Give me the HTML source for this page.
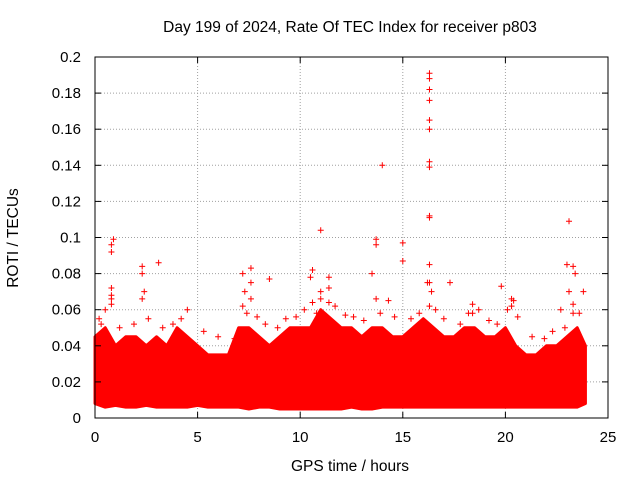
<!DOCTYPE html>
<html><head><meta charset="utf-8"><style>
body{margin:0;background:#fff;width:640px;height:480px;overflow:hidden}
text{font-family:"Liberation Sans",sans-serif;fill:#000}
</style></head><body>
<svg id="chart" width="640" height="480" viewBox="0 0 640 480">
<text x="350" y="32" font-size="15.5" text-anchor="middle">Day 199 of 2024, Rate Of TEC Index for receiver p803</text>
<text transform="translate(18,238) rotate(-90)" font-size="15.5" text-anchor="middle">ROTI / TECUs</text>
<text x="350" y="471" font-size="15.5" text-anchor="middle">GPS time / hours</text>
<g id="grid"></g><g id="marks"></g><g id="axes"></g>
</svg>
<script>
const xTicks=[0,5,10,15,20,25];
const yTicks=[0,0.02,0.04,0.06,0.08,0.1,0.12,0.14,0.16,0.18,0.2];
const yTickLabels=["0","0.02","0.04","0.06","0.08","0.1","0.12","0.14","0.16","0.18","0.2"];
const bandTimes=[0,0.5,1,1.5,2,2.5,3,3.5,4,4.5,5,5.5,6,6.5,7,7.5,8,8.5,9,9.5,10,10.5,11,11.5,12,12.5,13,13.5,14,14.5,15,15.5,16,16.5,17,17.5,18,18.5,19,19.5,20,20.5,21,21.5,22,22.5,23,23.5,23.9];
const bandUpper=[0.045,0.05,0.04,0.045,0.045,0.04,0.045,0.04,0.05,0.045,0.04,0.035,0.035,0.035,0.05,0.05,0.045,0.04,0.045,0.05,0.05,0.05,0.06,0.055,0.05,0.05,0.045,0.05,0.05,0.045,0.045,0.05,0.055,0.05,0.045,0.045,0.05,0.05,0.045,0.045,0.05,0.04,0.035,0.035,0.04,0.04,0.045,0.05,0.04];
const bandLower=[0.008,0.006,0.007,0.006,0.006,0.007,0.006,0.006,0.006,0.006,0.007,0.006,0.006,0.006,0.006,0.005,0.006,0.006,0.005,0.005,0.005,0.005,0.005,0.005,0.005,0.006,0.005,0.005,0.006,0.006,0.006,0.006,0.006,0.006,0.006,0.006,0.006,0.006,0.006,0.006,0.006,0.006,0.006,0.006,0.006,0.006,0.006,0.006,0.008];
const spikeTimes=[0.2,0.5,0.8,0.8,0.8,0.8,0.9,2.3,2.3,2.4,3.1,4.5,7.2,7.3,7.6,7.6,8.5,10.5,10.6,11.0,11.0,11.4,11.4,13.5,13.7,13.7,14.0,14.3,15.0,15.0,16.2,16.3,16.3,16.3,16.3,16.3,16.3,16.3,16.3,16.3,16.3,16.3,16.4,17.3,18.4,19.8,20.3,20.4,22.7,23.0,23.1,23.1,23.3,23.3,23.4,23.8,
 0.3,1.2,1.9,2.6,3.3,3.8,4.2,5.3,6.0,6.8,7.4,7.9,8.3,8.9,9.3,9.8,10.2,10.8,11.7,12.2,12.6,13.1,13.9,14.6,15.4,15.8,16.6,17.0,17.8,18.2,18.7,19.2,19.6,20.1,20.6,21.3,21.9,22.3,22.9,23.6,
 0.8,0.8,2.3,7.2,7.6,10.6,11.0,11.4,13.7,16.3,16.3,18.4,20.3,23.3];
const spikeValues=[0.055,0.06,0.063,0.072,0.092,0.096,0.099,0.08,0.084,0.07,0.086,0.06,0.08,0.07,0.083,0.075,0.077,0.078,0.082,0.104,0.07,0.078,0.072,0.08,0.096,0.099,0.14,0.065,0.097,0.087,0.075,0.191,0.188,0.182,0.176,0.165,0.16,0.142,0.139,0.112,0.111,0.085,0.07,0.075,0.063,0.073,0.066,0.065,0.06,0.085,0.109,0.07,0.084,0.063,0.08,0.07,
 0.052,0.05,0.052,0.055,0.05,0.052,0.055,0.048,0.045,0.044,0.058,0.056,0.052,0.05,0.055,0.056,0.06,0.058,0.062,0.057,0.056,0.054,0.058,0.056,0.055,0.058,0.06,0.055,0.052,0.058,0.06,0.054,0.052,0.06,0.056,0.045,0.044,0.048,0.05,0.058,
 0.066,0.068,0.066,0.062,0.066,0.064,0.066,0.064,0.066,0.062,0.075,0.058,0.062,0.058];
const X0=95,X1=608,Y0=418,Y1=57;
const xs=v=>X0+(v-0)/(25-0)*(X1-X0);
const ys=v=>Y0-(v-0)/(0.2-0)*(Y0-Y1);
const NS="http://www.w3.org/2000/svg";
function mk(tag,attrs,parent){const e=document.createElementNS(NS,tag);for(const k in attrs)e.setAttribute(k,attrs[k]);parent.appendChild(e);return e;}
const grid=document.getElementById('grid'),marks=document.getElementById('marks'),axes=document.getElementById('axes');
xTicks.forEach((t,i)=>{
 if(i>0&&i<xTicks.length-1){const l=mk('line',{x1:xs(t),x2:xs(t),y1:Y1,y2:Y0,stroke:'#a0a0a0','stroke-dasharray':'1,2'},grid);
 
 }
 const tl=mk('text',{x:xs(t),y:Y0+24,'font-size':15,'text-anchor':'middle'},axes);tl.textContent=t;
 
 
 mk('line',{x1:xs(t),x2:xs(t),y1:Y0,y2:Y0-6,stroke:'#000'},axes);
 mk('line',{x1:xs(t),x2:xs(t),y1:Y1,y2:Y1+6,stroke:'#000'},axes);
});
yTicks.forEach((t,i)=>{
 if(i>0&&i<yTicks.length-1){const l=mk('line',{x1:X0,x2:X1,y1:ys(t),y2:ys(t),stroke:'#a0a0a0','stroke-dasharray':'1,2'},grid);
 
 }
 const tl=mk('text',{x:X0-14,y:ys(t)+5,'font-size':15,'text-anchor':'end'},axes);tl.textContent=yTickLabels[i];
 
 
 mk('line',{x1:X0,x2:X0+6,y1:ys(t),y2:ys(t),stroke:'#000'},axes);
 mk('line',{x1:X1,x2:X1-6,y1:ys(t),y2:ys(t),stroke:'#000'},axes);
});
const frame=mk('rect',{x:X0,y:Y1,width:X1-X0,height:Y0-Y1,fill:'none',stroke:'#000'},axes);


let d='M'+bandTimes.map((t,i)=>xs(t)+','+ys(bandUpper[i])).join(' L');
for(let i=bandTimes.length-1;i>=0;i--)d+=' L'+xs(bandTimes[i])+','+ys(bandLower[i]);
const band=mk('path',{d:d+'Z',fill:'#ff0000',stroke:'#ff0000','stroke-width':3,'stroke-linejoin':'round'},marks);


spikeTimes.forEach((t,i)=>{
 const x=xs(t),y=ys(spikeValues[i]);
 const p=mk('path',{d:`M${x-3},${y}H${x+3}M${x},${y-3}V${y+3}`,stroke:'#ff0000','stroke-width':1},marks);
 
 
});
</script>
</body></html>
